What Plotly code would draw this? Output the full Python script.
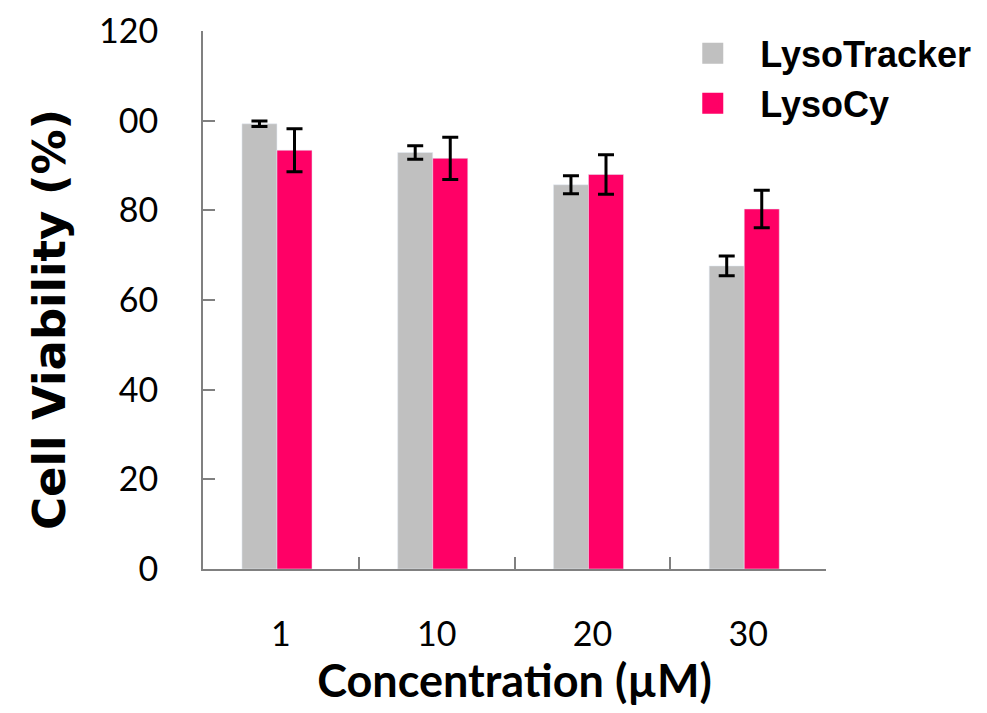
import plotly.graph_objects as go

categories = ["1", "10", "20", "30"]
lysotracker = [99.3, 92.9, 85.7, 67.6]
lysotracker_err = [0.6, 1.5, 2.0, 2.2]
lysocy = [93.4, 91.6, 88.0, 80.3]
lysocy_err = [4.8, 4.7, 4.4, 4.2]
y_tickvals = [0, 20, 40, 60, 80, 100, 120]
y_ticktext = ["0", "20", "40", "60", "80", "00", "120"]

GRAY = "#C0C0C0"
PINK = "#FF0066"

fig = go.Figure()
fig.add_trace(go.Bar(
    x=categories, y=lysotracker, name="LysoTracker", marker_color=GRAY,
    width=0.225, offset=-0.25,
    error_y=dict(type="data", array=lysotracker_err, color="black", thickness=3, width=8),
    showlegend=False,
))
fig.add_trace(go.Bar(
    x=categories, y=lysocy, name="LysoCy", marker_color=PINK,
    width=0.225, offset=-0.025,
    error_y=dict(type="data", array=lysocy_err, color="black", thickness=3, width=8),
    showlegend=False,
))
# legend proxies
fig.add_trace(go.Scatter(x=[None], y=[None], mode="markers", name="LysoTracker",
                         marker=dict(symbol="square", size=16, color=GRAY, line=dict(color=GRAY, width=5))))
fig.add_trace(go.Scatter(x=[None], y=[None], mode="markers", name="LysoCy",
                         marker=dict(symbol="square", size=16, color=PINK, line=dict(color=PINK, width=5))))

fig.add_annotation(
    text="<b>Cell Viability (%)</b>", textangle=-90,
    xref="paper", yref="paper", x=-0.2456, y=0.4647,
    xanchor="center", yanchor="middle", showarrow=False,
    font=dict(family="DejaVu Sans", size=45, color="black"),
)

fig.update_layout(
    width=987, height=713,
    margin=dict(l=195, r=169, t=23, b=152),
    plot_bgcolor="white", paper_bgcolor="white",
    barmode="overlay",
    showlegend=True,
    legend=dict(x=0.742, y=1.014, xanchor="left", yanchor="top",
                font=dict(family="Liberation Sans", size=36, color="black", weight="bold"),
                itemwidth=85, tracegroupgap=0, bgcolor="rgba(0,0,0,0)"),
    xaxis=dict(
        type="category", range=[-0.5, 3.5], automargin=False,
        showline=True, linecolor="#808080", linewidth=2,
        ticks="inside", ticklen=12, tickcolor="#808080", tickwidth=2,
        tickson="boundaries",
        tickfont=dict(family="Lato", size=34, color="black"),
        ticklabelstandoff=34,
        title=dict(text="Concentration (µM)", font=dict(family="Lato", size=45, color="black", weight="bold"), standoff=10),
        showgrid=False, zeroline=False,
    ),
    yaxis=dict(
        range=[0, 120], tickvals=y_tickvals, ticktext=y_ticktext, automargin=False,
        showline=True, linecolor="#808080", linewidth=2,
        ticks="inside", ticklen=12, tickcolor="#808080", tickwidth=2,
        tickfont=dict(family="Lato", size=34, color="black"),
        ticklabelstandoff=36,
        showgrid=False, zeroline=False,
    ),
)

fig.write_html("out.html")
